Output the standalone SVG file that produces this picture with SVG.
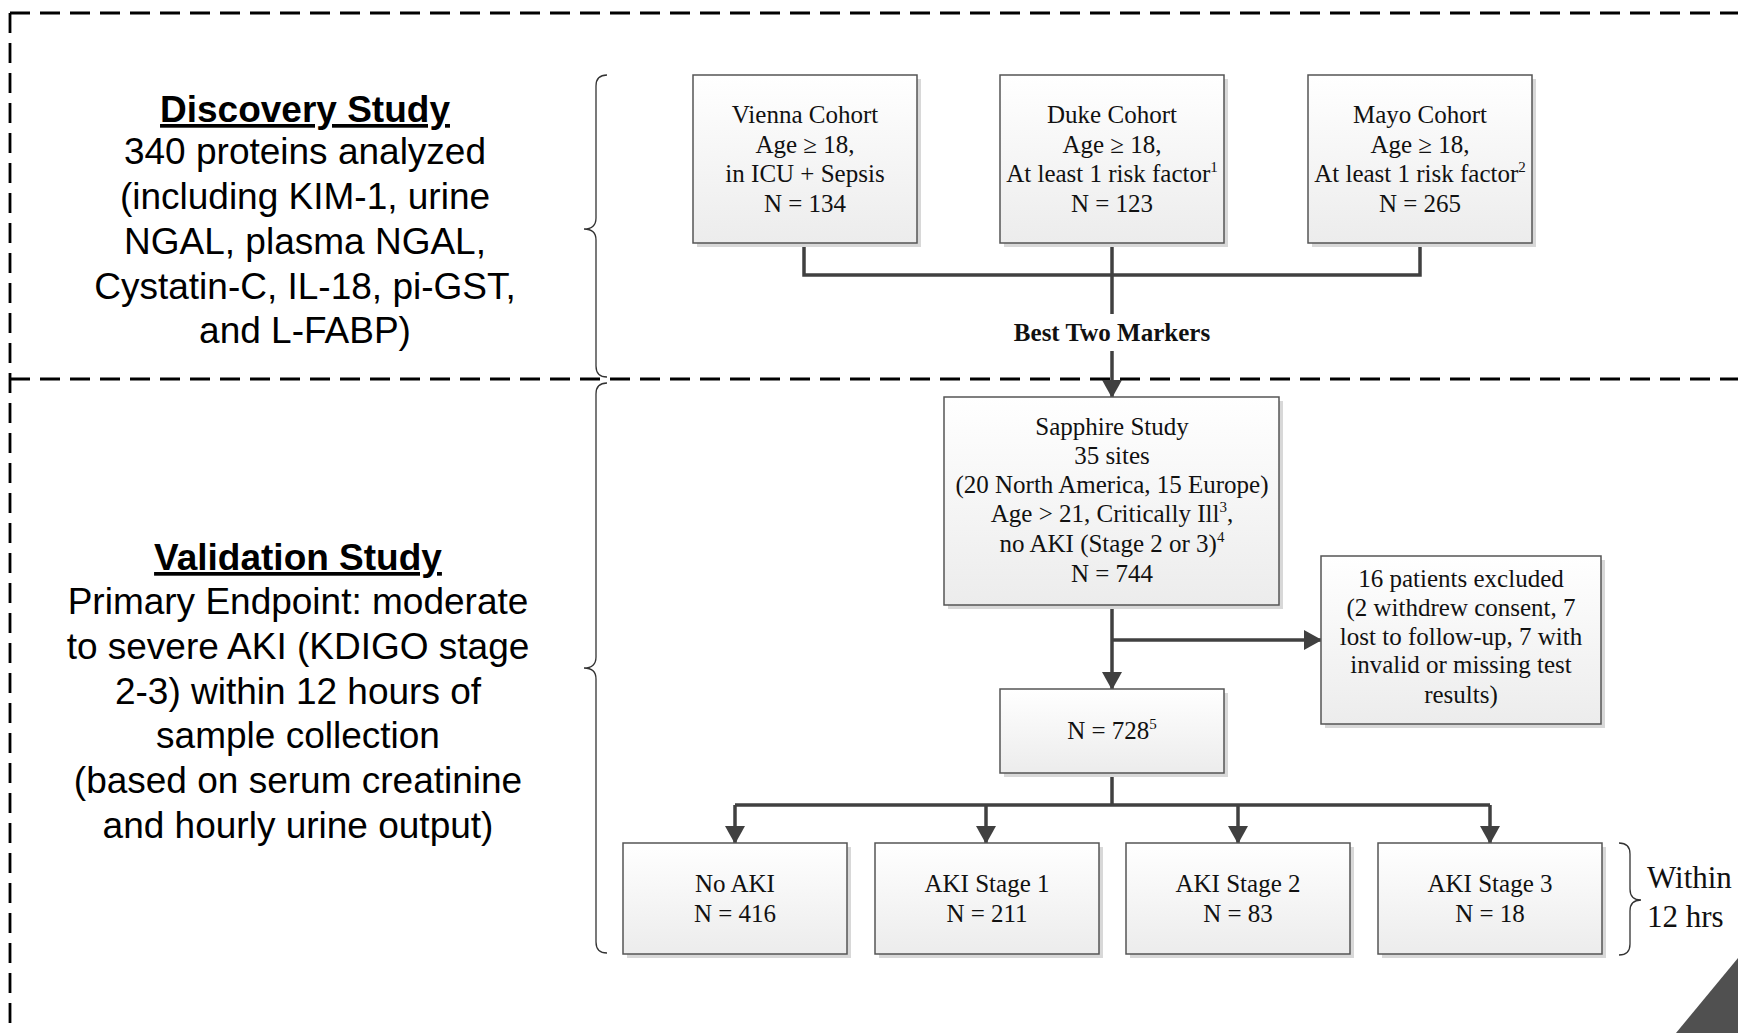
<svg xmlns="http://www.w3.org/2000/svg" width="1738" height="1033" viewBox="0 0 1738 1033">
<defs>
<linearGradient id="g" x1="0" y1="0" x2="0" y2="1"><stop offset="0" stop-color="#ffffff"/><stop offset="1" stop-color="#ececec"/></linearGradient>
<marker id="ah" markerUnits="userSpaceOnUse" markerWidth="22" markerHeight="22" refX="17" refY="10" orient="auto"><path d="M0,0 L18,10 L0,20 Z" fill="#404040"/></marker>
<style>
.dash{stroke:#000;stroke-width:2.8;stroke-dasharray:20 10;fill:none}
.brace{stroke:#333;stroke-width:1.3;fill:none}
.box{fill:url(#g);stroke:#555;stroke-width:1.5}
.sh{fill:#d8d8d8}
.con{stroke:#404040;stroke-width:3.5;fill:none}
.t{font-family:"Liberation Serif","Times New Roman",serif;font-size:25px;fill:#111;text-anchor:middle}
.tb{font-family:"Liberation Serif","Times New Roman",serif;font-size:25px;font-weight:bold;fill:#111;text-anchor:middle}
.w{font-family:"Liberation Serif","Times New Roman",serif;font-size:31px;fill:#111;text-anchor:start}
.s{font-family:"Liberation Sans",Arial,sans-serif;font-size:37px;fill:#000;text-anchor:middle}
.sb{font-family:"Liberation Sans",Arial,sans-serif;font-size:37px;font-weight:bold;fill:#000;text-anchor:middle;text-decoration:underline}
.sup{font-size:15px}
</style>
</defs>
<rect width="1738" height="1033" fill="#fff"/>
<g id="frame">
<line class="dash" x1="10" y1="13" x2="1738" y2="13"/>
<line class="dash" x1="10" y1="13" x2="10" y2="1033"/>
<line class="dash" x1="10" y1="379" x2="1738" y2="379"/>
</g>
<g id="braces">
<path class="brace" d="M607 75 Q596 75 596 86 L596 218 Q596 229 584 229 Q596 229 596 240 L596 366 Q596 377 607 377"/>
<path class="brace" d="M607 383 Q596 383 596 394 L596 657 Q596 668 584 668 Q596 668 596 679 L596 942 Q596 953 607 953"/>
<path class="brace" d="M1619 843 Q1630 843 1630 854 L1630 889 Q1630 900 1641 900 Q1630 900 1630 911 L1630 944 Q1630 955 1619 955"/>
</g>
<g id="discovery-label">
<text class="sb" x="305" y="122">Discovery Study</text>
<text class="s" x="305" y="164">340 proteins analyzed</text>
<text class="s" x="305" y="209">(including KIM-1, urine</text>
<text class="s" x="305" y="254">NGAL, plasma NGAL,</text>
<text class="s" x="305" y="299">Cystatin-C, IL-18, pi-GST,</text>
<text class="s" x="305" y="343">and L-FABP)</text>
</g>
<g id="validation-label">
<text class="sb" x="298" y="570">Validation Study</text>
<text class="s" x="298" y="614">Primary Endpoint: moderate</text>
<text class="s" x="298" y="659">to severe AKI (KDIGO stage</text>
<text class="s" x="298" y="704">2-3) within 12 hours of</text>
<text class="s" x="298" y="748">sample collection</text>
<text class="s" x="298" y="793">(based on serum creatinine</text>
<text class="s" x="298" y="838">and hourly urine output)</text>
</g>
<g id="connectors">
<path class="con" d="M804 243 V275 H1420 V243"/>
<path class="con" d="M1112 243 V314"/>
<path class="con" d="M1112 351 V397" marker-end="url(#ah)"/>
<path class="con" d="M1112 605 V689" marker-end="url(#ah)"/>
<path class="con" d="M1112 640 H1321" marker-end="url(#ah)"/>
<path class="con" d="M1112 773 V805 M735 805 H1490"/>
<path class="con" d="M735 805 V843" marker-end="url(#ah)"/>
<path class="con" d="M986 805 V843" marker-end="url(#ah)"/>
<path class="con" d="M1238 805 V843" marker-end="url(#ah)"/>
<path class="con" d="M1490 805 V843" marker-end="url(#ah)"/>
<text class="tb" x="1112" y="341">Best Two Markers</text>
</g>
<g id="vienna">
<rect class="sh" x="697" y="79" width="224" height="168"/>
<rect class="box" x="693" y="75" width="224" height="168"/>
<text class="t" x="805" y="123">Vienna Cohort</text>
<text class="t" x="805" y="153">Age ≥ 18,</text>
<text class="t" x="805" y="182">in ICU + Sepsis</text>
<text class="t" x="805" y="212">N = 134</text>
</g>
<g id="duke">
<rect class="sh" x="1004" y="79" width="224" height="168"/>
<rect class="box" x="1000" y="75" width="224" height="168"/>
<text class="t" x="1112" y="123">Duke Cohort</text>
<text class="t" x="1112" y="153">Age ≥ 18,</text>
<text class="t" x="1112" y="182">At least 1 risk factor<tspan class="sup" dy="-10">1</tspan></text>
<text class="t" x="1112" y="212">N = 123</text>
</g>
<g id="mayo">
<rect class="sh" x="1312" y="79" width="224" height="168"/>
<rect class="box" x="1308" y="75" width="224" height="168"/>
<text class="t" x="1420" y="123">Mayo Cohort</text>
<text class="t" x="1420" y="153">Age ≥ 18,</text>
<text class="t" x="1420" y="182">At least 1 risk factor<tspan class="sup" dy="-10">2</tspan></text>
<text class="t" x="1420" y="212">N = 265</text>
</g>
<g id="sapphire">
<rect class="sh" x="948" y="401" width="335" height="208"/>
<rect class="box" x="944" y="397" width="335" height="208"/>
<text class="t" x="1112" y="435">Sapphire Study</text>
<text class="t" x="1112" y="464">35 sites</text>
<text class="t" x="1112" y="493">(20 North America, 15 Europe)</text>
<text class="t" x="1112" y="522">Age &gt; 21, Critically Ill<tspan class="sup" dy="-10">3</tspan><tspan dy="10">,</tspan></text>
<text class="t" x="1112" y="552">no AKI (Stage 2 or 3)<tspan class="sup" dy="-10">4</tspan></text>
<text class="t" x="1112" y="582">N = 744</text>
</g>
<g id="excluded">
<rect class="sh" x="1325" y="560" width="280" height="168"/>
<rect class="box" x="1321" y="556" width="280" height="168"/>
<text class="t" x="1461" y="587">16 patients excluded</text>
<text class="t" x="1461" y="616">(2 withdrew consent, 7</text>
<text class="t" x="1461" y="645">lost to follow-up, 7 with</text>
<text class="t" x="1461" y="673">invalid or missing test</text>
<text class="t" x="1461" y="703">results)</text>
</g>
<g id="n728">
<rect class="sh" x="1004" y="693" width="224" height="84"/>
<rect class="box" x="1000" y="689" width="224" height="84"/>
<text class="t" x="1112" y="739">N = 728<tspan class="sup" dy="-10">5</tspan></text>
</g>
<g id="noaki">
<rect class="sh" x="627" y="847" width="224" height="111"/>
<rect class="box" x="623" y="843" width="224" height="111"/>
<text class="t" x="735" y="892">No AKI</text>
<text class="t" x="735" y="922">N = 416</text>
</g>
<g id="aki1">
<rect class="sh" x="879" y="847" width="224" height="111"/>
<rect class="box" x="875" y="843" width="224" height="111"/>
<text class="t" x="987" y="892">AKI Stage 1</text>
<text class="t" x="987" y="922">N = 211</text>
</g>
<g id="aki2">
<rect class="sh" x="1130" y="847" width="224" height="111"/>
<rect class="box" x="1126" y="843" width="224" height="111"/>
<text class="t" x="1238" y="892">AKI Stage 2</text>
<text class="t" x="1238" y="922">N = 83</text>
</g>
<g id="aki3">
<rect class="sh" x="1382" y="847" width="224" height="111"/>
<rect class="box" x="1378" y="843" width="224" height="111"/>
<text class="t" x="1490" y="892">AKI Stage 3</text>
<text class="t" x="1490" y="922">N = 18</text>
</g>
<g id="within">
<text class="w" x="1647" y="888">Within</text>
<text class="w" x="1647" y="927">12 hrs</text>
</g>
<polygon points="1738,958 1676,1033 1738,1033" fill="#505050"/>
</svg>
